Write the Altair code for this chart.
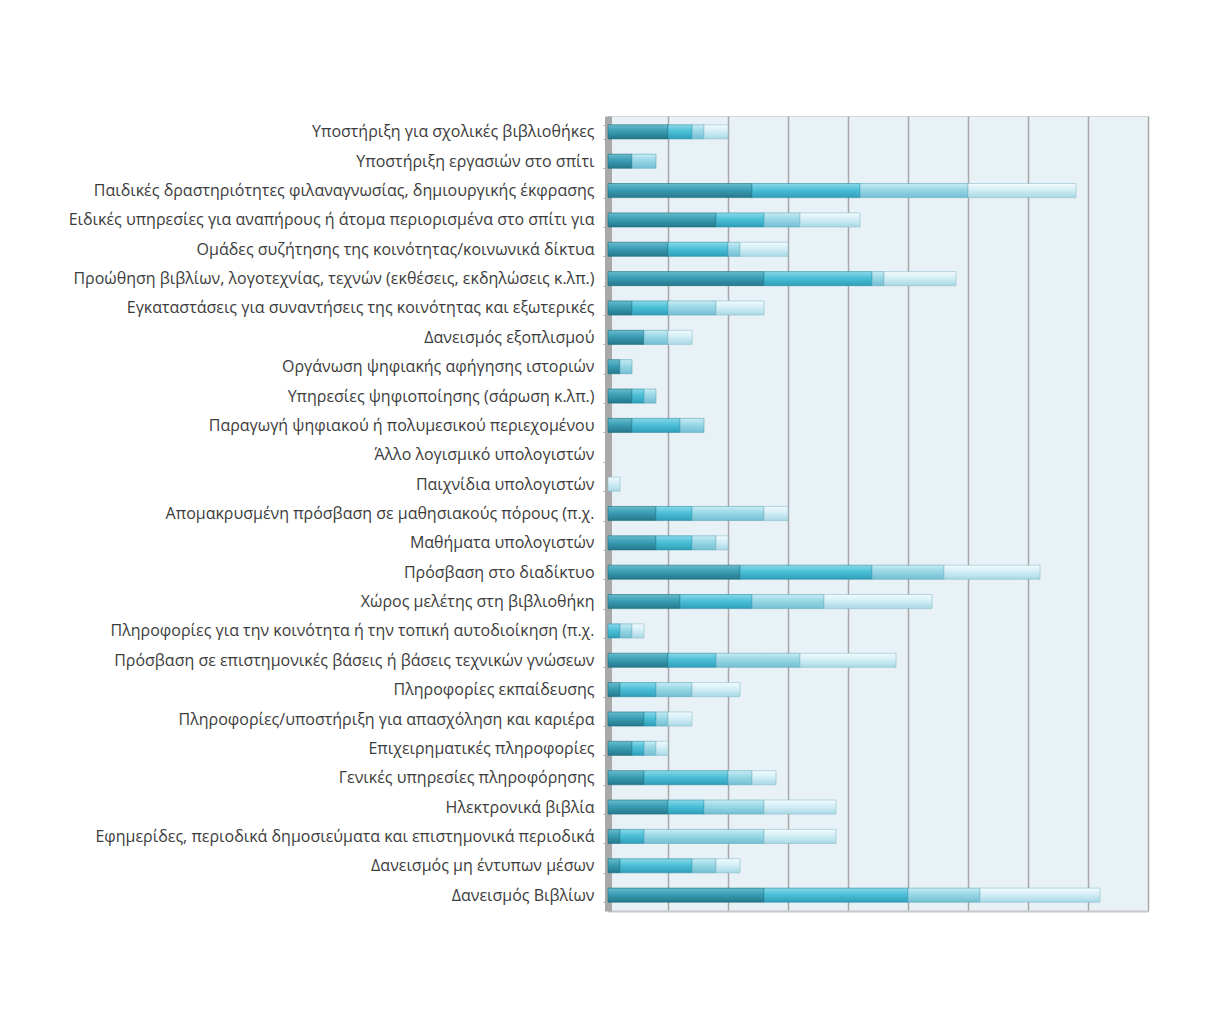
import altair as alt
import pandas as pd

categories = [
    "Υποστήριξη για σχολικές βιβλιοθήκες",
    "Υποστήριξη εργασιών στο σπίτι",
    "Παιδικές δραστηριότητες φιλαναγνωσίας, δημιουργικής έκφρασης",
    "Ειδικές υπηρεσίες για αναπήρους ή άτομα περιορισμένα στο σπίτι για",
    "Ομάδες συζήτησης της κοινότητας/κοινωνικά δίκτυα",
    "Προώθηση βιβλίων, λογοτεχνίας, τεχνών (εκθέσεις, εκδηλώσεις κ.λπ.)",
    "Εγκαταστάσεις για συναντήσεις της κοινότητας και εξωτερικές",
    "Δανεισμός εξοπλισμού",
    "Οργάνωση ψηφιακής αφήγησης ιστοριών",
    "Υπηρεσίες ψηφιοποίησης (σάρωση κ.λπ.)",
    "Παραγωγή ψηφιακού ή πολυμεσικού περιεχομένου",
    "Άλλο λογισμικό υπολογιστών",
    "Παιχνίδια υπολογιστών",
    "Απομακρυσμένη πρόσβαση σε μαθησιακούς πόρους (π.χ.",
    "Μαθήματα υπολογιστών",
    "Πρόσβαση στο διαδίκτυο",
    "Χώρος μελέτης στη βιβλιοθήκη",
    "Πληροφορίες για την κοινότητα ή την τοπική αυτοδιοίκηση (π.χ.",
    "Πρόσβαση σε επιστημονικές βάσεις ή βάσεις τεχνικών γνώσεων",
    "Πληροφορίες εκπαίδευσης",
    "Πληροφορίες/υποστήριξη για απασχόληση και καριέρα",
    "Επιχειρηματικές πληροφορίες",
    "Γενικές υπηρεσίες πληροφόρησης",
    "Ηλεκτρονικά βιβλία",
    "Εφημερίδες, περιοδικά δημοσιεύματα και επιστημονικά περιοδικά",
    "Δανεισμός μη έντυπων μέσων",
    "Δανεισμός Βιβλίων",
]

series_names = ["Σειρά 1", "Σειρά 2", "Σειρά 3", "Σειρά 4"]
s1 = [5, 2, 12, 9, 5, 13, 2, 3, 1, 2, 2, 0, 0, 4, 4, 11, 6, 0, 5, 1, 3, 2, 3, 5, 1, 1, 13]
s2 = [2, 0, 9, 4, 5, 9, 3, 0, 0, 1, 4, 0, 0, 3, 3, 11, 6, 1, 4, 3, 1, 1, 7, 3, 2, 6, 12]
s3 = [1, 2, 9, 3, 1, 1, 4, 2, 1, 1, 2, 0, 0, 6, 2, 6, 6, 1, 7, 3, 1, 1, 2, 5, 10, 2, 6]
s4 = [2, 0, 9, 5, 4, 6, 4, 2, 0, 0, 0, 0, 1, 2, 1, 8, 9, 1, 8, 4, 2, 1, 2, 6, 6, 2, 10]

# cylinder-like shading: (top, middle, bottom, outline)
shades = [
    ("#68bccd", "#3a9db3", "#25788c", "#1f6c7e"),
    ("#8ad8e8", "#4cc0d8", "#2f9fb8", "#2a8ea5"),
    ("#c8ecf4", "#98d7e6", "#74bfd2", "#5fa9bd"),
    ("#f2fbfd", "#d3eef5", "#a9d8e5", "#8cc0cf"),
]

rows = []
for k, vals in enumerate([s1, s2, s3, s4]):
    for c, v in zip(categories, vals):
        rows.append({"category": c, "series": series_names[k], "order": k, "value": v})
df = pd.DataFrame(rows)

FONT = "Open Sans"

y_enc = alt.Y(
    "category:N",
    sort=categories,
    title=None,
    scale=alt.Scale(domain=categories, paddingInner=0.52, paddingOuter=0.3),
    axis=alt.Axis(
        labelFont=FONT,
        labelFontSize=16,
        labelColor="#3c3c3c",
        labelLimit=700,
        labelPadding=9,
        domainColor="#a9a9a9",
        domainWidth=7,
        ticks=True,
        tickBand="extent",
        tickColor="#a9a9a9",
        tickSize=5,
        grid=False,
    ),
)
x_enc = alt.X(
    "x0:Q",
    title=None,
    scale=alt.Scale(domain=[0, 45], nice=False),
    axis=alt.Axis(
        values=list(range(0, 50, 5)),
        labels=False,
        ticks=False,
        grid=True,
        gridColor="#a8a8a8",
        gridWidth=1.5,
        domainColor="#c8c8c8",
        domainWidth=2,
    ),
)

base = alt.Chart(df).transform_filter(alt.datum.value > 0).transform_stack(
    stack="value",
    groupby=["category"],
    sort=[alt.SortField("order", order="ascending")],
    as_=["x0", "x1"],
)

layers = []
for k, name in enumerate(series_names):
    top, mid, bot, edge = shades[k]
    grad = alt.Gradient(
        gradient="linear",
        x1=0, x2=0, y1=0, y2=1,
        stops=[
            alt.GradientStop(color=top, offset=0),
            alt.GradientStop(color=mid, offset=0.45),
            alt.GradientStop(color=bot, offset=1),
        ],
    )
    layers.append(
        base.transform_filter(alt.datum.series == name)
        .mark_bar(color=grad, stroke=edge, strokeWidth=0.6)
        .encode(y=y_enc, x=x_enc, x2="x1:Q")
    )

chart = (
    alt.layer(*layers)
    .properties(
        width=540,
        height=795,
        padding={"left": 60, "top": 100, "right": 10, "bottom": 5},
        view=alt.ViewBackground(fill="#e8f1f6", stroke="#d0d6da"),
    )
    .configure(background="#ffffff")
)

chart.save("out.html", embed_options={"renderer": "svg", "actions": False})
